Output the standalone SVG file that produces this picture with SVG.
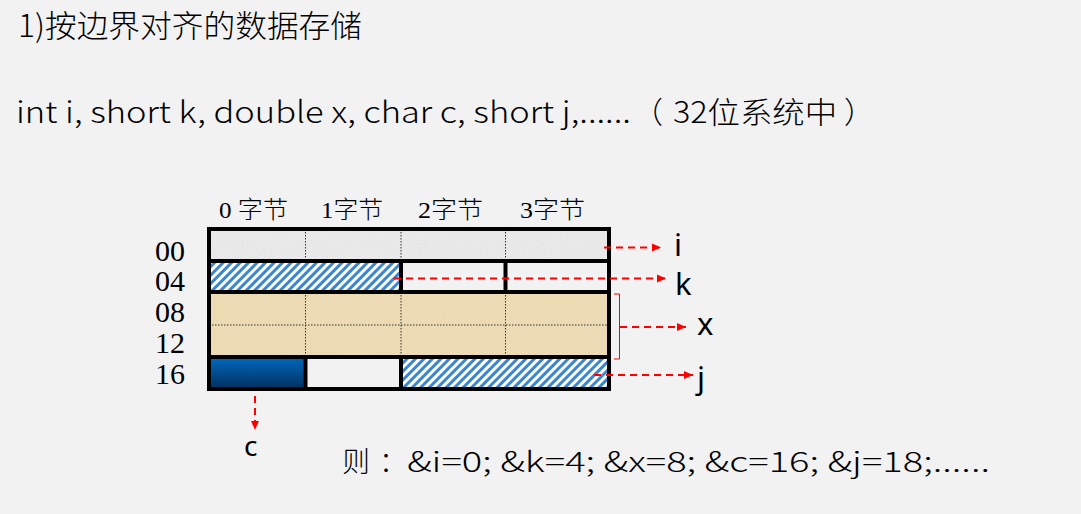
<svg xmlns="http://www.w3.org/2000/svg" width="1081" height="514" viewBox="0 0 1081 514">
<style>
.cjk{font-family:"Noto Sans CJK SC","Noto Sans",sans-serif;fill:#000;font-weight:300}
.lat{font-family:"Noto Sans","Noto Sans CJK SC",sans-serif;fill:#000}
.ser{font-family:"Liberation Serif","Noto Sans CJK SC",serif;fill:#000;font-weight:300}
.thick{stroke:#000;stroke-width:4;fill:none}
.dot{stroke:#333;stroke-width:1;stroke-dasharray:1.5 1.5;fill:none}
.arr{stroke:#ff0000;stroke-width:2;stroke-dasharray:7 5;fill:none;marker-end:url(#ah)}
</style>
<defs>
<marker id="ah" markerUnits="userSpaceOnUse" markerWidth="10" markerHeight="10" refX="9" refY="5" orient="auto">
<path d="M0,1 L9,5 L0,9 Z" fill="#ff0000"/>
</marker>
<pattern id="hatch" patternUnits="userSpaceOnUse" width="6" height="6" patternTransform="rotate(45)">
<rect width="6" height="6" fill="#ffffff"/>
<rect width="3" height="6" fill="#3a86d0"/>
</pattern>
<linearGradient id="blue" x1="0" y1="0" x2="0" y2="1">
<stop offset="0" stop-color="#0068bf"/>
<stop offset="1" stop-color="#00315f"/>
</linearGradient>
<filter id="grain" x="0" y="0" width="100%" height="100%">
<feTurbulence type="fractalNoise" baseFrequency="0.7" numOctaves="2" seed="3" result="n"/>
<feColorMatrix in="n" type="matrix" values="0 0 0 0 0.75  0 0 0 0 0.75  0 0 0 0 0.75  0 0 0 1.5 -0.5" result="g"/>
<feComposite in="g" in2="SourceGraphic" operator="in"/>
</filter>
<filter id="grain2" x="0" y="0" width="100%" height="100%">
<feTurbulence type="fractalNoise" baseFrequency="0.04" numOctaves="3" seed="7" result="n"/>
<feColorMatrix in="n" type="matrix" values="0 0 0 0 0.85  0 0 0 0 0.72  0 0 0 0 0.5  0 0 0 0.8 -0.25" result="g"/>
<feComposite in="g" in2="SourceGraphic" operator="in"/>
</filter>
</defs>
<rect width="1081" height="514" fill="#f2f2f2"/>

<g id="title">
<text class="cjk" x="18" y="37" font-size="31" textLength="344" lengthAdjust="spacingAndGlyphs">1)按边界对齐的数据存储</text>
</g>
<g id="decl">
<text class="cjk" y="123" font-size="30"><tspan x="16" textLength="615" lengthAdjust="spacingAndGlyphs">int i, short k, double x, char c, short j,......</tspan><tspan x="633">（</tspan><tspan x="673" textLength="164" lengthAdjust="spacingAndGlyphs">32位系统中</tspan><tspan x="844">）</tspan></text>
</g>

<g id="col-labels">
<text class="ser" x="219" y="218" font-size="24" textLength="69" lengthAdjust="spacingAndGlyphs">0 字节</text>
<text class="ser" x="321" y="218" font-size="24" textLength="62" lengthAdjust="spacingAndGlyphs">1字节</text>
<text class="ser" x="418" y="218" font-size="24" textLength="65" lengthAdjust="spacingAndGlyphs">2字节</text>
<text class="ser" x="520" y="218" font-size="24" textLength="65" lengthAdjust="spacingAndGlyphs">3字节</text>
</g>
<g id="row-labels">
<text class="ser" x="155" y="261" font-size="30">00</text>
<text class="ser" x="155" y="291" font-size="30">04</text>
<text class="ser" x="155" y="322" font-size="30">08</text>
<text class="ser" x="155" y="353" font-size="30">12</text>
<text class="ser" x="155" y="384" font-size="30">16</text>
</g>

<g id="memory">
<g id="cell-i">
<rect x="209" y="229" width="400" height="32" fill="#ebebeb"/>
<rect x="209" y="229" width="400" height="32" fill="#ffffff" filter="url(#grain)"/>
<path class="dot" d="M305.5,229 V261 M401,229 V261 M505.5,229 V261"/>
</g>
<g id="cell-k">
<rect x="209" y="261" width="192" height="31" fill="url(#hatch)"/>
</g>
<g id="cell-x">
<rect x="209" y="292" width="400" height="65" fill="#ecdab2"/>
<rect x="209" y="292" width="400" height="65" fill="#ffffff" filter="url(#grain2)"/>
<path class="dot" d="M305.5,292 V357 M401,292 V357 M505.5,292 V357 M209,325 H609"/>
</g>
<g id="cell-c">
<rect x="209" y="357" width="96.5" height="32" fill="url(#blue)"/>
</g>
<g id="cell-j">
<rect x="401" y="357" width="208" height="32" fill="url(#hatch)"/>
</g>
<path class="thick" d="M209,261 H609 M209,292 H609 M209,357 H609 M401,261 V292 M505.5,261 V292 M305.5,357 V389 M401,357 V389"/>
<rect x="209" y="229" width="400" height="160" fill="none" stroke="#000" stroke-width="4"/>
</g>

<g id="connectors">
<line class="arr" x1="604" y1="247.5" x2="661" y2="247.5"/>
<line class="arr" x1="394" y1="278.5" x2="666" y2="278.5"/>
<path d="M614,294 H619.5 V359 H614" fill="none" stroke="#ff0000" stroke-width="1"/>
<line class="arr" x1="620" y1="327" x2="686" y2="327"/>
<line class="arr" x1="594" y1="375" x2="693" y2="375"/>
<line class="arr" x1="255" y1="396" x2="255" y2="430"/>
</g>

<g id="var-labels">
<text class="lat" x="674" y="256" font-size="31">i</text>
<text class="lat" x="675" y="295" font-size="31">k</text>
<text class="lat" x="697" y="335" font-size="31">x</text>
<text class="lat" x="697" y="389" font-size="31">j</text>
<text class="lat" x="244" y="456" font-size="28">c</text>
</g>

<g id="result">
<text class="cjk" y="472" font-size="28"><tspan x="342">则</tspan><tspan x="379">：</tspan><tspan x="407" textLength="583" lengthAdjust="spacingAndGlyphs">&amp;i=0; &amp;k=4; &amp;x=8; &amp;c=16; &amp;j=18;......</tspan></text>
</g>
</svg>
